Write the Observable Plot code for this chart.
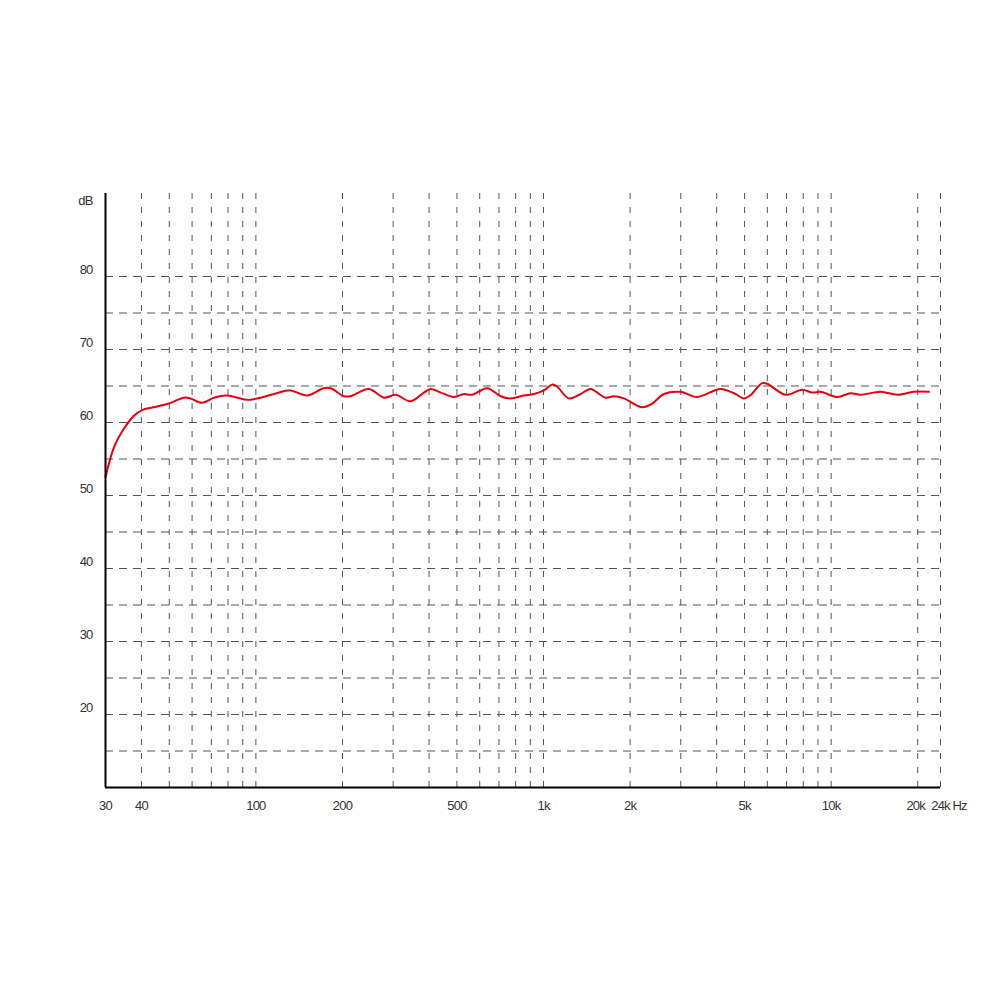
<!DOCTYPE html>
<html>
<head>
<meta charset="utf-8">
<script src="https://cdn.jsdelivr.net/npm/d3@7"></script>
<script src="https://cdn.jsdelivr.net/npm/@observablehq/plot@0.6"></script>
<style>
  html, body { margin: 0; padding: 0; background: #fff; }
  #chart svg { display: block; }
  #chart svg text { letter-spacing: -0.8px; }
</style>
</head>
<body>
<div id="chart"></div>
<script>
// Frequency response (Hz, dB)
const freqs = [30, 32.1, 34.7, 37.6, 40.2, 45.4, 49.8, 56.2, 59.2, 65.1, 71.4, 79.0, 86.1, 93.3, 103.7,
  115.4, 132, 139, 151, 172, 182, 202, 213, 247, 279, 306, 345, 384, 405,
  439, 488, 529, 565, 637, 709, 768, 854, 926, 1003, 1073, 1116, 1225, 1345, 1457,
  1643, 1756, 1903, 2204, 2388, 2621, 2995, 3423, 4125, 4653, 4972, 5247,
  5760, 5997, 6942, 7938, 8598, 9189, 10506, 11683, 12657, 14856, 16977, 19391, 21870];
const levels = [52.5, 56.6, 59.1, 60.9, 61.7, 62.2, 62.6, 63.4, 63.3, 62.7, 63.4, 63.7, 63.4, 63.1, 63.4,
  63.9, 64.4, 64.1, 63.7, 64.7, 64.7, 63.6, 63.6, 64.6, 63.4, 63.8, 62.9, 64.1, 64.6,
  64.1, 63.5, 63.9, 63.8, 64.7, 63.6, 63.3, 63.7, 63.9, 64.4, 65.2, 64.9, 63.3, 63.9, 64.6,
  63.4, 63.6, 63.3, 62.1, 62.6, 63.9, 64.2, 63.5, 64.6, 63.9, 63.3, 63.75,
  65.4, 65.3, 63.8, 64.5, 64.1, 64.2, 63.5, 64.0, 63.8, 64.2, 63.8, 64.2, 64.2];

const xTickValues = [30, 40, 100, 200, 500, 1000, 2000, 5000, 10000, 20000, 24000];
const xTickLabels = ["30", "40", "100", "200", "500", "1k", "2k", "5k", "10k", "20k", "24k"];
const yTickValues = [20, 30, 40, 50, 60, 70, 80];
const hGrid = [15, 20, 25, 30, 35, 40, 45, 50, 55, 60, 65, 70, 75, 80];
const vGrid = [40, 50, 60, 70, 80, 90, 100, 200, 300, 400, 500, 600, 700, 800, 900,
  1000, 2000, 3000, 4000, 5000, 6000, 7000, 8000, 9000, 10000, 20000, 24000];

const curve = freqs.map((f, i) => ({f, db: levels[i]}));
const xTicks = xTickValues.map((v, i) => ({v, label: xTickLabels[i]}));

const font = "'Liberation Sans', Arial, sans-serif";
const textColor = "#333";
const gridColor = "#555";

const chart = Plot.plot({
  width: 1000,
  height: 1000,
  marginLeft: 105,
  marginRight: 60,
  marginTop: 193,
  marginBottom: 213,
  style: {fontFamily: font, fontSize: "13px", background: "#fff"},
  x: {type: "log", domain: [30, 24000], axis: null},
  y: {domain: [10, 91.37], axis: null},
  marks: [
    Plot.ruleY(hGrid, {stroke: gridColor, strokeWidth: 1, strokeDasharray: "8,6"}),
    Plot.ruleX(vGrid, {stroke: gridColor, strokeWidth: 1, strokeDasharray: "6,8"}),
    Plot.line(curve, {x: "f", y: "db", stroke: "#e8000b", strokeWidth: 2, curve: "catmull-rom"}),
    Plot.ruleX([30], {stroke: "#000", strokeWidth: 2}),
    Plot.ruleY([10], {stroke: "#000", strokeWidth: 2}),
    Plot.text(yTickValues, {x: () => 30, y: d => d, text: d => String(d), dx: -13, dy: -7,
      textAnchor: "end", fill: textColor, fontSize: 13}),
    Plot.text(xTicks.filter(d => d.v < 20000), {x: "v", y: () => 10, text: "label", dy: 18,
      textAnchor: "middle", fill: textColor, fontSize: 13}),
    Plot.text(xTicks.filter(d => d.v === 20000), {x: "v", y: () => 10, text: "label", dy: 18, dx: -2,
      textAnchor: "middle", fill: textColor, fontSize: 13}),
    Plot.text(xTicks.filter(d => d.v === 24000), {x: "v", y: () => 10, text: "label", dy: 18, dx: 0,
      textAnchor: "middle", fill: textColor, fontSize: 13}),
    Plot.text(["Hz"], {x: () => 24000, y: () => 10, text: d => d, dx: 12, dy: 18,
      textAnchor: "start", fill: textColor, fontSize: 13}),
    Plot.text(["dB"], {frameAnchor: "top-left", text: d => d, dx: -20, dy: 7.5,
      textAnchor: "middle", lineAnchor: "middle", fill: textColor, fontSize: 13})
  ]
});
document.getElementById("chart").appendChild(chart);
</script>
</body>
</html>
